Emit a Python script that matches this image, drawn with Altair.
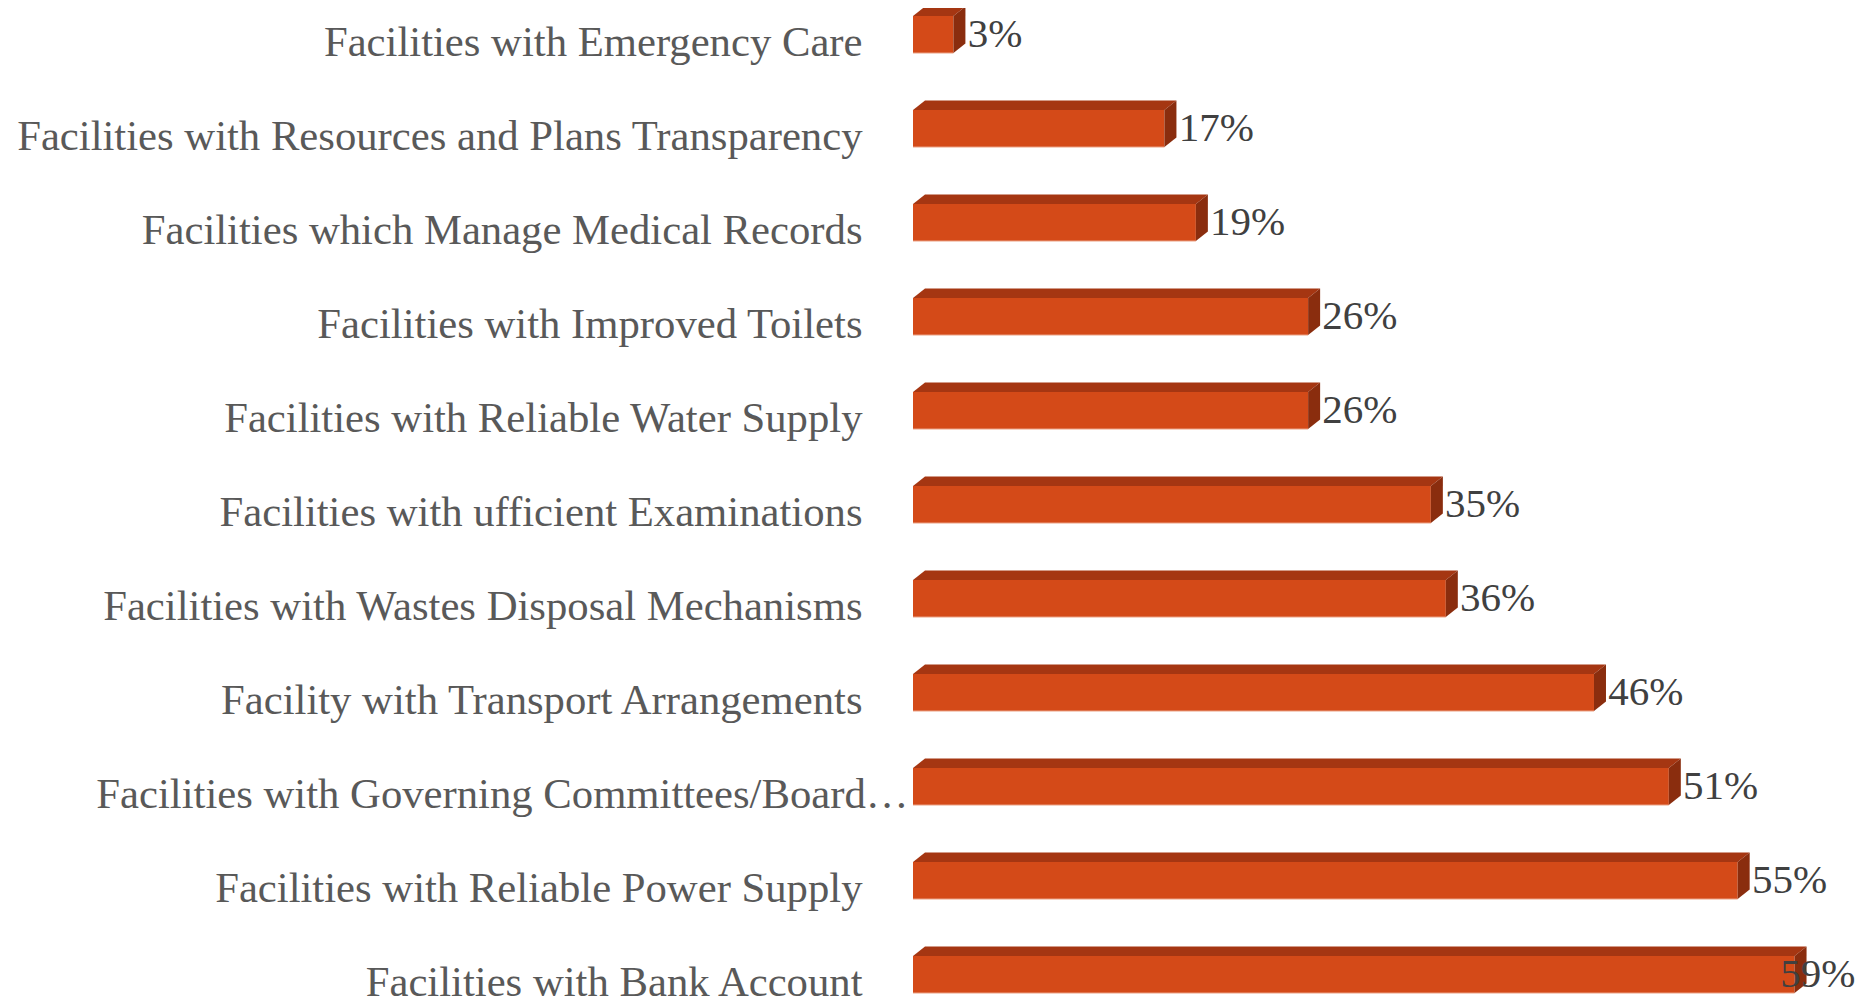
import json
import altair as alt
import pandas as pd

# ---- data (top to bottom) ----
categories = [
    "Facilities with Emergency Care",
    "Facilities with Resources and Plans Transparency",
    "Facilities which Manage Medical Records",
    "Facilities with Improved Toilets",
    "Facilities with Reliable Water Supply",
    "Facilities with ufficient Examinations",
    "Facilities with Wastes Disposal Mechanisms",
    "Facility with Transport Arrangements",
    "Facilities with Governing Committees/Board\u2026",
    "Facilities with Reliable Power Supply",
    "Facilities with Bank Account",
]
# bar lengths (labels are the rounded values)
values = [2.7, 16.8, 18.9, 26.4, 26.4, 34.6, 35.6, 45.5, 50.5, 55.1, 58.9]
value_labels = ["3%", "17%", "19%", "26%", "26%", "35%", "36%", "46%", "51%", "55%", "59%"]

# ---- 3D styling parameters (in data units) ----
X_MAX = 60
PX_PER_UNIT_X = 898 / X_MAX
PX_PER_UNIT_Y = 94
DX = 12 / PX_PER_UNIT_X      # depth to the right
DY = 9.5 / PX_PER_UNIT_Y     # depth upward
H = 37 / PX_PER_UNIT_Y       # front face thickness

FRONT = "#D44A18"
TOP = "#A53612"
SIDE = "#8A2D0E"
EDGE = "#EBA184"

front_rows, top_rows, side_rows, text_rows = [], [], [], []
for i, (c, v, lab) in enumerate(zip(categories, values, value_labels)):
    yt = i - H / 2
    yb = i + H / 2
    front_rows.append({"idx": i, "x0": 0, "x1": v, "yt": yt, "yb": yb})
    top_rows += [
        {"idx": i, "x": 0, "lo": yt, "hi": yt},
        {"idx": i, "x": DX, "lo": yt, "hi": yt - DY},
        {"idx": i, "x": v, "lo": yt, "hi": yt - DY},
        {"idx": i, "x": v + DX, "lo": yt - DY, "hi": yt - DY},
    ]
    side_rows += [
        {"idx": i, "x": v, "lo": yt, "hi": yb},
        {"idx": i, "x": v + DX, "lo": yt - DY, "hi": yb - DY},
    ]
    text_rows.append({"idx": i, "value": v, "label": lab})

front_df = pd.DataFrame(front_rows)
top_df = pd.DataFrame(top_rows)
side_df = pd.DataFrame(side_rows)
text_df = pd.DataFrame(text_rows)

xscale = alt.Scale(domain=[0, X_MAX], nice=False, zero=False)
yscale = alt.Scale(domain=[-0.25, 10.25], nice=False, zero=False, reverse=True)

label_expr = json.dumps(categories, ensure_ascii=False) + "[datum.value]"
yaxis = alt.Axis(
    values=list(range(len(categories))),
    labelExpr=label_expr,
    domain=False,
    ticks=False,
    tickSize=0,
    grid=False,
    title=None,
    labelFont="Liberation Serif",
    labelFontSize=42.7,
    labelColor="#595959",
    labelPadding={"condition": {"test": "datum.value == 8", "value": 5}, "value": 51},
    labelBaseline="alphabetic",
    labelOffset=20.5,
    labelLimit=2000,
    labelOverlap=False,
    labelFlush=False,
)

front = alt.Chart(front_df).mark_rect(color=FRONT).encode(
    x=alt.X("x0:Q", scale=xscale, axis=None),
    x2="x1:Q",
    y=alt.Y("yt:Q", scale=yscale, axis=yaxis),
    y2="yb:Q",
)

edge = alt.Chart(front_df).mark_rule(color=EDGE, strokeWidth=1).encode(
    x=alt.X("x0:Q", scale=xscale, axis=None),
    x2="x1:Q",
    y=alt.Y("yb:Q", scale=yscale, axis=yaxis),
)

top = alt.Chart(top_df).mark_area(color=TOP, orient="vertical").encode(
    x=alt.X("x:Q", scale=xscale, axis=None),
    y=alt.Y("lo:Q", scale=yscale, axis=yaxis),
    y2="hi:Q",
    detail="idx:N",
)

side = alt.Chart(side_df).mark_area(color=SIDE, orient="vertical").encode(
    x=alt.X("x:Q", scale=xscale, axis=None),
    y=alt.Y("lo:Q", scale=yscale, axis=yaxis),
    y2="hi:Q",
    detail="idx:N",
)

text = alt.Chart(text_df).transform_calculate(
    lx="min(datum.value + 0.95, 57.95)"
).mark_text(
    align="left", baseline="alphabetic", dy=12,
    font="Liberation Serif", fontSize=41, color="#404040",
).encode(
    x=alt.X("lx:Q", scale=xscale, axis=None),
    y=alt.Y("idx:Q", scale=yscale, axis=yaxis),
    text="label:N",
)

chart = alt.layer(front, edge, top, side, text).properties(
    width=898,
    height=987,
    autosize="none",
    padding={"left": 905, "top": 3, "right": 50, "bottom": 0},
    background="white",
).configure_view(stroke=None)

chart.save("out.html", embed_options={"renderer": "svg", "actions": False})
